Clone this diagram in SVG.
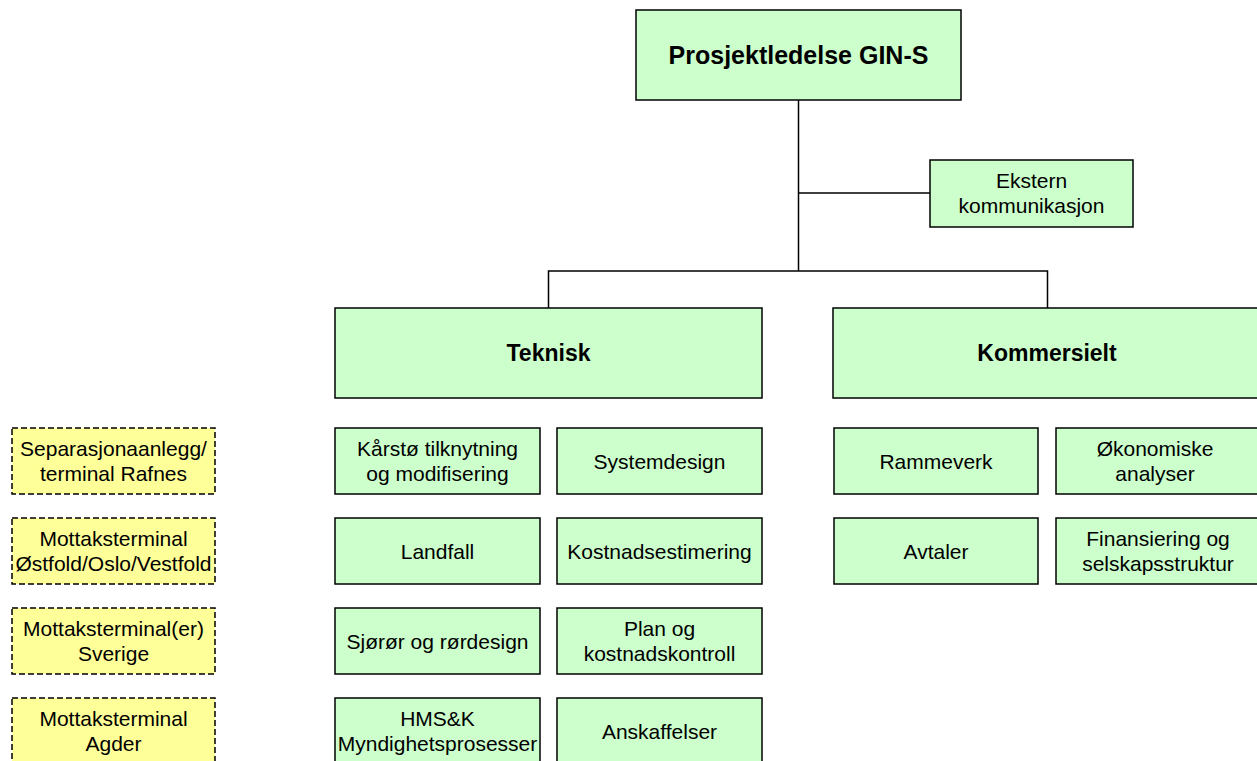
<svg xmlns="http://www.w3.org/2000/svg" width="1257" height="761" viewBox="0 0 1257 761">
<style>
.g{fill:#CCFFCC;stroke:#000;stroke-width:1.5}
.y{fill:#FFFF99;stroke:#000;stroke-width:1.5;stroke-dasharray:6 3}
.c{fill:none;stroke:#000;stroke-width:1.5}
text{font-family:"Liberation Sans",Arial,sans-serif;font-size:21px;fill:#000;text-anchor:middle}
.b{font-weight:bold;font-size:23px}
.t{font-weight:bold;font-size:25px}
</style>
<rect width="1257" height="761" fill="#fff"/>
<g id="connectors">
<path class="c" d="M798.5 100V271M798.5 193H930M548.5 308V271H1047.5V308"/>
</g>
<g id="n-top"><rect class="g" x="636" y="10" width="325" height="90"/><text class="t" x="798.5" y="64">Prosjektledelse GIN-S</text></g>
<g id="n-ekstern"><rect class="g" x="930" y="160" width="203" height="67"/><text x="1031.5" y="188">Ekstern</text><text x="1031.5" y="213">kommunikasjon</text></g>
<g id="n-teknisk"><rect class="g" x="335" y="308" width="427" height="90"/><text class="b" x="548.5" y="361">Teknisk</text></g>
<g id="n-kommersielt"><rect class="g" x="833" y="308" width="428" height="90"/><text class="b" x="1047" y="361">Kommersielt</text></g>

<g id="n-karsto"><rect class="g" x="335" y="428" width="205" height="66"/><text x="437.5" y="456">Kårstø tilknytning</text><text x="437.5" y="481">og modifisering</text></g>
<g id="n-systemdesign"><rect class="g" x="557" y="428" width="205" height="66"/><text x="659.5" y="468.5">Systemdesign</text></g>
<g id="n-landfall"><rect class="g" x="335" y="518" width="205" height="66"/><text x="437.5" y="558.5">Landfall</text></g>
<g id="n-kostnad"><rect class="g" x="557" y="518" width="205" height="66"/><text x="659.5" y="558.5">Kostnadsestimering</text></g>
<g id="n-sjoror"><rect class="g" x="335" y="608" width="205" height="66"/><text x="437.5" y="648.5">Sjørør og rørdesign</text></g>
<g id="n-plan"><rect class="g" x="557" y="608" width="205" height="66"/><text x="659.5" y="636">Plan og</text><text x="659.5" y="661">kostnadskontroll</text></g>
<g id="n-hms"><rect class="g" x="335" y="698" width="205" height="66"/><text x="437.5" y="726">HMS&amp;K</text><text x="437.5" y="751">Myndighetsprosesser</text></g>
<g id="n-anskaffelser"><rect class="g" x="557" y="698" width="205" height="66"/><text x="659.5" y="738.5">Anskaffelser</text></g>

<g id="n-rammeverk"><rect class="g" x="834" y="428" width="204" height="66"/><text x="936" y="468.5">Rammeverk</text></g>
<g id="n-okonomiske"><rect class="g" x="1056" y="428" width="205" height="66"/><text x="1155" y="456">Økonomiske</text><text x="1155" y="481">analyser</text></g>
<g id="n-avtaler"><rect class="g" x="834" y="518" width="204" height="66"/><text x="936" y="558.5">Avtaler</text></g>
<g id="n-finansiering"><rect class="g" x="1056" y="518" width="205" height="66"/><text x="1158" y="546">Finansiering og</text><text x="1158" y="571">selskapsstruktur</text></g>

<g id="n-rafnes"><rect class="y" x="12" y="428" width="203" height="66"/><text x="113.5" y="456">Separasjonaanlegg/</text><text x="113.5" y="481">terminal Rafnes</text></g>
<g id="n-ostfold"><rect class="y" x="12" y="518" width="203" height="66"/><text x="113.5" y="546">Mottaksterminal</text><text x="113.5" y="571">Østfold/Oslo/Vestfold</text></g>
<g id="n-sverige"><rect class="y" x="12" y="608" width="203" height="66"/><text x="113.5" y="636">Mottaksterminal(er)</text><text x="113.5" y="661">Sverige</text></g>
<g id="n-agder"><rect class="y" x="12" y="698" width="203" height="66"/><text x="113.5" y="726">Mottaksterminal</text><text x="113.5" y="751">Agder</text></g>
</svg>
